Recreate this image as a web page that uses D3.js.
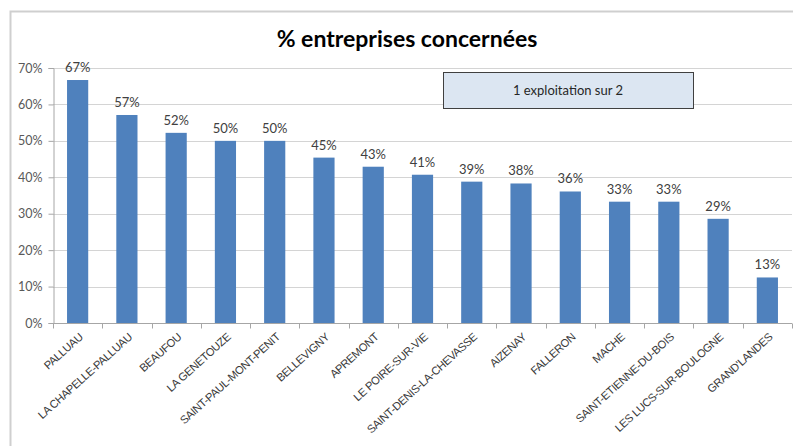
<!DOCTYPE html>
<html>
<head>
<meta charset="utf-8">
<script src="https://cdn.jsdelivr.net/npm/d3@7"></script>
<style>
  html, body { margin: 0; padding: 0; background: #fff; }
  svg { display: block; }
</style>
</head>
<body>
<svg id="chart" width="793" height="446"></svg>
<script>
const categories = ["PALLUAU", "LA CHAPELLE-PALLUAU", "BEAUFOU", "LA GENETOUZE", "SAINT-PAUL-MONT-PENIT",
  "BELLEVIGNY", "APREMONT", "LE POIRE-SUR-VIE", "SAINT-DENIS-LA-CHEVASSE", "AIZENAY", "FALLERON",
  "MACHE", "SAINT-ETIENNE-DU-BOIS", "LES LUCS-SUR-BOULOGNE", "GRAND'LANDES"];
const values = [66.7, 57.1, 52.2, 50.0, 50.0, 45.4, 42.9, 40.7, 38.8, 38.3, 36.1, 33.3, 33.3, 28.6, 12.5];
const yTicks = [0, 10, 20, 30, 40, 50, 60, 70];
const titleText = "% entreprises concernées";
const noteText = "1 exploitation sur 2";

const svg = d3.select("#chart");
const pLeft = 53, pRight = 792, pTop = 68, pBottom = 323;

// outer frame
svg.append("rect").attr("x", 10.5).attr("y", 11.5).attr("width", 800).attr("height", 460)
  .attr("fill", "none").attr("stroke", "#cfcfcf").attr("stroke-width", 2);

const x = d3.scaleBand().domain(categories).range([pLeft, pRight]).padding(0);
const y = d3.scaleLinear().domain([0, 70]).range([pBottom, pTop]);

// gridlines
svg.append("g").selectAll("line").data(yTicks.filter(d => d > 0)).join("line")
  .attr("x1", pLeft).attr("x2", pRight)
  .attr("y1", d => Math.round(y(d)) + 0.5).attr("y2", d => Math.round(y(d)) + 0.5)
  .attr("stroke", "#d4d4d4").attr("stroke-width", 1);

// y axis
const yAxis = d3.axisLeft(y).tickValues(yTicks).tickFormat(d => d + "%").tickSize(5).tickPadding(6);
const gy = svg.append("g").attr("transform", `translate(${pLeft + 0.5},0)`).call(yAxis);
gy.select(".domain").attr("stroke", "#a6a6a6");
gy.selectAll(".tick line").attr("stroke", "#a6a6a6");
gy.selectAll(".tick text").attr("font-family", "Lato, 'Open Sans', sans-serif").attr("font-size", 12.5)
  .attr("fill", "#595959").attr("x", -11);

// x axis
const gx = svg.append("g").attr("transform", `translate(0,${pBottom + 0.5})`);
gx.append("line").attr("x1", pLeft).attr("x2", pRight).attr("stroke", "#a6a6a6");
const boundaries = categories.map(c => x(c)).concat([pRight]);
gx.selectAll("line.tk").data(boundaries).join("line").attr("class", "tk")
  .attr("x1", d => Math.round(d) + 0.5).attr("x2", d => Math.round(d) + 0.5)
  .attr("y1", 0).attr("y2", 5).attr("stroke", "#a6a6a6");

// bars
const barW = x.bandwidth() * 0.43;
svg.append("g").selectAll("rect").data(values).join("rect")
  .attr("x", (d, i) => x(categories[i]) + x.bandwidth() / 2 - barW / 2)
  .attr("y", d => y(d))
  .attr("width", barW)
  .attr("height", d => y(0) - y(d))
  .attr("fill", "#4f81bd");

// data labels
svg.append("g").selectAll("text").data(values).join("text")
  .attr("x", (d, i) => x(categories[i]) + x.bandwidth() / 2)
  .attr("y", d => y(d) - 8)
  .attr("text-anchor", "middle")
  .attr("font-family", "Lato, 'Open Sans', sans-serif")
  .attr("font-size", 13)
  .attr("fill", "#404040")
  .text(d => Math.round(d) + "%");

// category labels
svg.append("g").selectAll("text").data(categories).join("text")
  .attr("transform", c => `translate(${x(c) + x.bandwidth() / 2 + 6},${pBottom + 15}) rotate(-42)`)
  .attr("text-anchor", "end")
  .attr("font-family", "'Liberation Sans', Arial, sans-serif")
  .attr("font-size", 11.2)
  .attr("letter-spacing", -0.35)
  .attr("fill", "#3a3a3a")
  .text(c => c);

// title
svg.append("text").attr("x", 407).attr("y", 47).attr("text-anchor", "middle")
  .attr("font-family", "Lato, 'Open Sans', sans-serif").attr("font-weight", "bold")
  .attr("font-size", 23).attr("fill", "#000")
  .text(titleText);

// note box
svg.append("rect").attr("x", 443.5).attr("y", 72.5).attr("width", 250).attr("height", 36)
  .attr("fill", "#dce6f2").attr("stroke", "#404040").attr("stroke-width", 1);
svg.append("text").attr("x", 568).attr("y", 95).attr("text-anchor", "middle")
  .attr("font-family", "Lato, 'Open Sans', sans-serif").attr("font-size", 13)
  .attr("fill", "#262626").text(noteText);
</script>
</body>
</html>
